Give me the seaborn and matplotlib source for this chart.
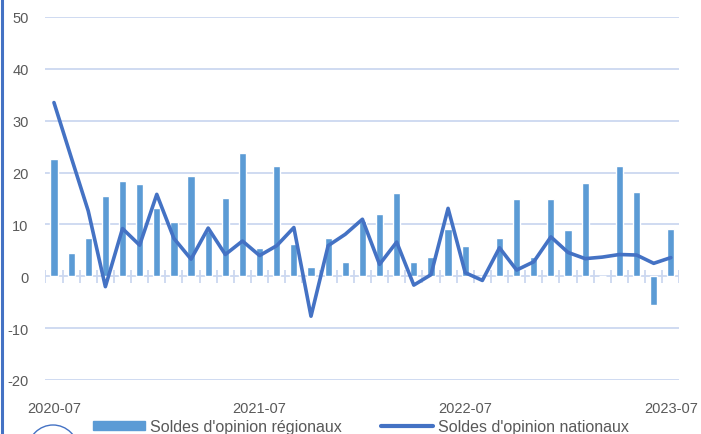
import numpy as np
import pandas as pd
import seaborn as sns
import matplotlib.pyplot as plt
from matplotlib.lines import Line2D
from matplotlib.patches import Circle

# monthly, 2020-07 .. 2023-07
months = pd.date_range("2020-07-01", "2023-07-01", freq="MS").strftime("%Y-%m").tolist()

regional = [22.6, 4.4, 7.3, 15.5, 18.4, 17.7, 13.1, 10.4, 19.3, 8.8, 15.1, 23.7,
            5.4, 21.3, 6.2, 1.7, 7.3, 2.8, 10.6, 12.1, 16.0, 2.8, 3.7, 9.1,
            5.9, 0.0, 7.4, 15.0, 3.8, 15.0, 8.9, 17.9, 0.0, 21.3, 16.3, -5.6, 9.1]
national = [33.5, 23.0, 12.6, -2.0, 9.2, 6.0, 15.8, 7.3, 3.3, 9.3, 4.2, 6.8,
            4.0, 5.9, 9.4, -7.7, 5.9, 8.1, 11.0, 2.3, 6.6, -1.7, 0.3, 13.1,
            0.7, -0.8, 5.5, 1.2, 2.8, 7.6, 4.6, 3.4, 3.7, 4.2, 4.1, 2.5, 3.6]
shown_labels = ["2020-07", "2021-07", "2022-07", "2023-07"]

bar_col = "#5B9BD5"
line_col = "#4472C4"
grid_col = "#CCD8F0"
text_col = "#595959"

df = pd.DataFrame({"mois": months, "regional": regional, "national": national,
                   "pos": np.arange(len(months))})

sns.set_style("white")
plt.rcParams["font.family"] = ["Liberation Sans", "DejaVu Sans"]
plt.rcParams["axes.unicode_minus"] = False

fig = plt.figure(figsize=(7.01, 4.35), dpi=100)
ax = fig.add_axes([45.4 / 701, 1 - 381 / 435, 634 / 701, 363 / 435])

ax.set_ylim(-20, 50)
ax.set_yticks(range(-20, 51, 10))
ax.grid(axis="y", color=grid_col, linewidth=1.3)
ax.set_axisbelow(True)

sns.barplot(data=df, x="mois", y="regional", color=bar_col, width=0.42,
            saturation=1, ax=ax, zorder=2)
sns.lineplot(data=df, x="pos", y="national", color=line_col, linewidth=2.6,
             sort=False, ax=ax, zorder=3)
ax.set_xlim(-0.5, len(months) - 0.5)

# small ticks on the zero line, between months
ax.vlines(np.arange(len(months) + 1) - 0.5, -1.3, 1.3, color=grid_col,
          linewidth=1.3, zorder=1)

ax.set_xticks([months.index(m) for m in shown_labels])
ax.set_xticklabels(shown_labels)
ax.tick_params(axis="both", length=0, labelsize=10.5, labelcolor=text_col)
ax.tick_params(axis="x", pad=15)
ax.tick_params(axis="y", pad=12)
ax.set_xlabel("")
ax.set_ylabel("")
for s in ax.spines.values():
    s.set_visible(False)

handles = [plt.Rectangle((0, 0), 1, 1, color=bar_col),
           Line2D([0], [0], color=line_col, linewidth=3)]
fig.legend(handles, ["Soldes d'opinion régionaux", "Soldes d'opinion nationaux"],
           loc="center left", bbox_to_anchor=(93 / 701, 1 - 428 / 435), ncol=2,
           frameon=False, fontsize=11.5, labelcolor=text_col, handlelength=3.25,
           handleheight=0.5, handletextpad=0.3, columnspacing=2.5,
           borderaxespad=0, borderpad=0)

# chart frame edge and clipped logo circle
fig.add_artist(Line2D([2 / 701, 2 / 701], [0, 1], color=line_col, linewidth=2.2))
fig.add_artist(Circle((0.53, -0.16), 0.25, transform=fig.dpi_scale_trans,
                      fill=False, edgecolor=line_col, linewidth=1.0,
                      clip_on=False))

fig.savefig("out.png", dpi=100)
